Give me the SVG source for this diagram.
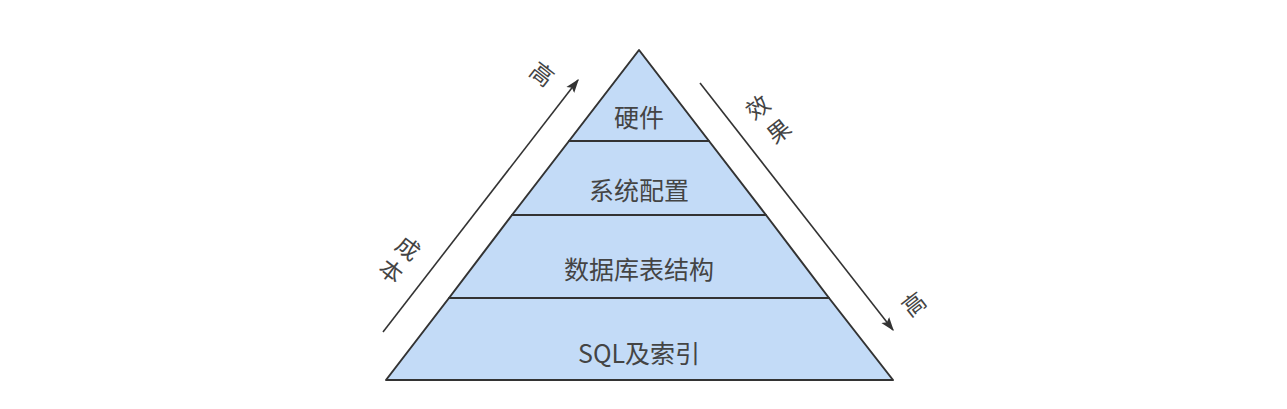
<svg xmlns="http://www.w3.org/2000/svg" width="1287" height="409" viewBox="0 0 1287 409">
<defs>
<style>
.layer{fill:#c3dbf7;stroke:#333;stroke-width:2;stroke-linejoin:round}
.lbl{font-family:"Noto Sans CJK SC","Noto Sans",sans-serif;font-size:25px;fill:#444;text-anchor:middle;dominant-baseline:central}
.side{font-family:"Noto Sans CJK SC","Noto Sans",sans-serif;font-size:23px;fill:#444;text-anchor:middle;dominant-baseline:central}
.arr{stroke:#333;stroke-width:1.6;fill:none;marker-end:url(#ah)}
</style>
<marker id="ah" viewBox="0 0 10 10" refX="9" refY="5" markerWidth="14" markerHeight="14" markerUnits="userSpaceOnUse" orient="auto">
<path d="M0,1.5 L10,5 L0,8.5 L2,5 Z" fill="#333"/>
</marker>
</defs>
<rect width="1287" height="409" fill="#fff"/>
<g id="layer-hardware">
<polygon class="layer" points="639,50 709,141 569,141"/>
<text class="lbl" x="639" y="116">硬件</text>
</g>
<g id="layer-config">
<polygon class="layer" points="569,141 709,141 766,215 512,215"/>
<text class="lbl" x="639" y="189">系统配置</text>
</g>
<g id="layer-schema">
<polygon class="layer" points="512,215 766,215 829,298 449,298"/>
<text class="lbl" x="639" y="268">数据库表结构</text>
</g>
<g id="layer-sql">
<polygon class="layer" points="449,298 829,298 893,380 386,380"/>
<text class="lbl" x="639" y="352">SQL及索引</text>
</g>
<g id="connectors">
<line class="arr" x1="383" y1="332" x2="578" y2="80"/>
<line class="arr" x1="700" y1="83" x2="893" y2="330"/>
</g>
<g id="label-cost">
<text class="side" transform="translate(543,73) rotate(38)">高</text>
<text class="side" transform="translate(409,247) rotate(38)">成</text>
<text class="side" transform="translate(392,270) rotate(38)">本</text>
</g>
<g id="label-effect">
<text class="side" transform="translate(757,106) rotate(-38)">效</text>
<text class="side" transform="translate(778,130) rotate(-38)">果</text>
<text class="side" transform="translate(913,303) rotate(-38)">高</text>
</g>
</svg>
